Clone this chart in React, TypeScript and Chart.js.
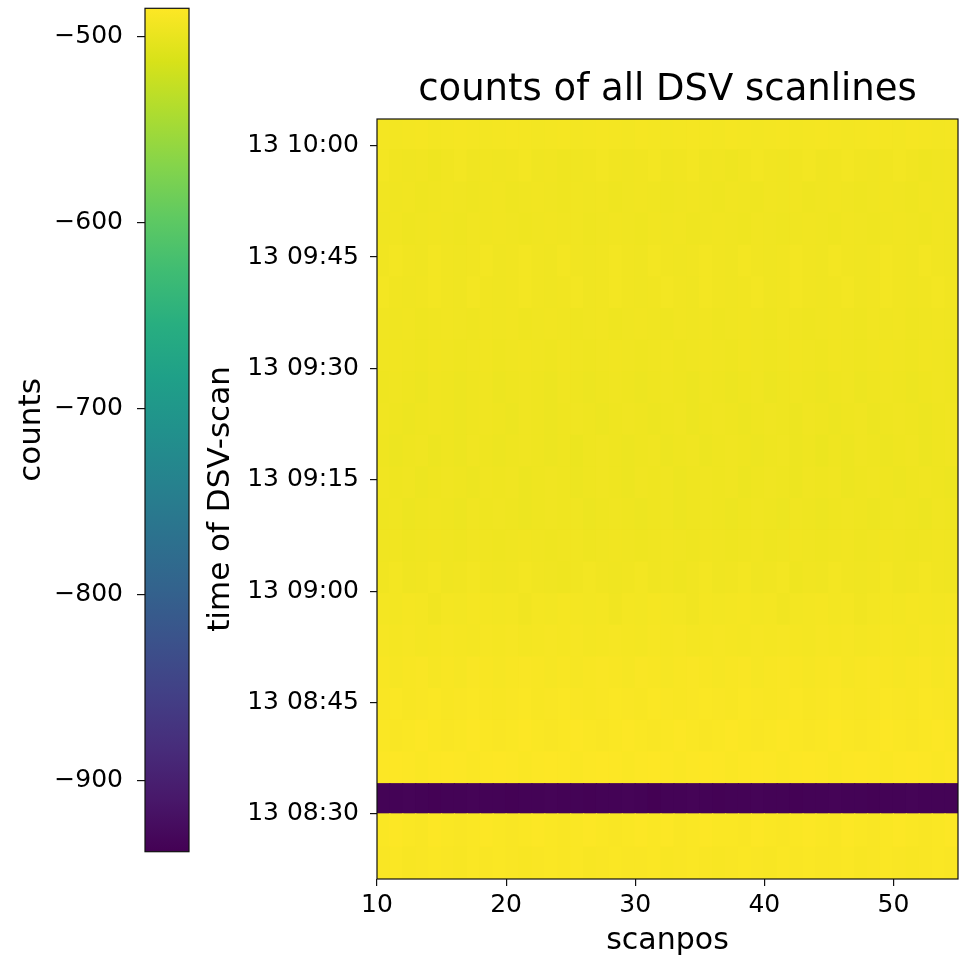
import React, { useEffect, useRef } from 'react';
import { Chart, registerables } from 'chart.js';

Chart.register(...registerables);

// ---------------- data ----------------
const SCANPOS = [10, 11, 12, 13, 14, 15, 16, 17, 18, 19, 20, 21, 22, 23, 24, 25, 26, 27, 28, 29, 30, 31, 32, 33, 34, 35, 36, 37, 38, 39, 40, 41, 42, 43, 44, 45, 46, 47, 48, 49, 50, 51, 52, 53, 54];
const SCAN_EDGE_END = 55;

// time edges of the DSV scanlines (day 13)
const ROW_EDGES = ['08:21:14', '08:25:30', '08:30:00', '08:34:04', '08:38:20', '08:42:36', '08:46:52', '08:51:08', '08:55:24', '08:59:40', '09:03:56', '09:08:12', '09:12:28', '09:16:44', '09:21:00', '09:25:16', '09:29:32', '09:33:48', '09:38:04', '09:42:20', '09:46:36', '09:50:52', '09:55:08', '09:59:24', '10:03:36'];

const X_TICKS = [10, 20, 30, 40, 50];
const Y_TICKS = ['08:30', '08:45', '09:00', '09:15', '09:30', '09:45', '10:00'];
const CBAR_TICKS = [-900, -800, -700, -600, -500];

const ROW_00 = [-488, -487, -489, -488, -487, -488, -489, -487, -488, -487, -488, -489, -488, -487, -488, -487, -489, -488, -487, -488, -488, -487, -489, -488, -487, -488, -489, -488, -487, -488, -489, -487, -488, -487, -488, -488, -487, -489, -488, -487, -488, -489, -488, -487, -488];
const ROW_01 = [-487, -486, -487, -488, -486, -487, -488, -487, -486, -487, -488, -487, -486, -487, -488, -487, -486, -487, -488, -487, -486, -487, -486, -488, -487, -486, -487, -487, -488, -486, -487, -488, -487, -486, -487, -488, -486, -487, -488, -487, -486, -487, -488, -487, -486];
const ROW_02 = [-935, -936, -934, -935, -937, -936, -935, -934, -936, -935, -937, -936, -935, -934, -936, -935, -937, -936, -935, -934, -936, -938, -935, -936, -934, -935, -937, -936, -935, -934, -936, -935, -937, -936, -935, -934, -936, -935, -937, -936, -935, -934, -936, -935, -936];
const ROW_03 = [-486, -485, -486, -487, -486, -485, -486, -487, -486, -485, -486, -487, -486, -485, -486, -487, -486, -485, -486, -487, -486, -485, -486, -487, -486, -485, -486, -487, -486, -485, -486, -487, -486, -485, -486, -487, -486, -485, -486, -487, -486, -485, -486, -487, -486];
const ROW_04 = [-487, -488, -487, -486, -487, -488, -487, -486, -487, -488, -487, -486, -487, -488, -487, -486, -487, -488, -487, -486, -487, -488, -487, -486, -487, -488, -487, -486, -487, -488, -487, -486, -487, -488, -487, -486, -487, -488, -487, -486, -487, -488, -487, -486, -487];
const ROW_05 = [-488, -487, -489, -488, -487, -489, -488, -487, -488, -489, -488, -487, -489, -488, -487, -488, -489, -488, -487, -488, -489, -487, -488, -489, -488, -487, -488, -489, -487, -488, -489, -488, -487, -489, -488, -487, -488, -489, -488, -487, -488, -489, -487, -488, -489];
const ROW_06 = [-489, -490, -489, -488, -490, -489, -490, -488, -489, -490, -489, -488, -489, -490, -489, -490, -489, -488, -489, -490, -488, -489, -490, -489, -488, -489, -490, -489, -488, -490, -489, -488, -489, -490, -489, -488, -490, -489, -488, -489, -490, -489, -488, -490, -489];
const ROW_07 = [-490, -491, -490, -492, -491, -490, -491, -492, -490, -491, -490, -492, -491, -490, -491, -490, -492, -491, -490, -491, -492, -490, -491, -490, -492, -491, -490, -491, -492, -490, -491, -490, -491, -492, -490, -491, -490, -492, -491, -490, -491, -492, -490, -491, -490];
const ROW_08 = [-492, -493, -491, -492, -494, -492, -493, -491, -492, -493, -492, -494, -492, -493, -491, -492, -493, -492, -494, -492, -493, -491, -492, -493, -494, -492, -493, -492, -491, -493, -492, -494, -493, -492, -491, -493, -492, -494, -493, -492, -493, -491, -492, -493, -492];
const ROW_09 = [-494, -493, -495, -494, -493, -495, -494, -493, -494, -495, -494, -493, -494, -495, -496, -494, -493, -494, -495, -494, -493, -495, -494, -496, -494, -493, -495, -494, -493, -495, -494, -493, -496, -494, -495, -493, -494, -495, -494, -493, -495, -494, -493, -494, -495];
const ROW_10 = [-495, -494, -496, -495, -494, -495, -496, -494, -495, -496, -495, -494, -495, -496, -495, -494, -496, -495, -494, -495, -496, -495, -494, -495, -496, -494, -495, -496, -495, -494, -496, -495, -494, -495, -496, -495, -494, -496, -495, -494, -495, -496, -495, -494, -495];
const ROW_11 = [-496, -495, -497, -496, -495, -496, -497, -495, -496, -495, -496, -497, -496, -495, -496, -495, -497, -496, -495, -496, -497, -496, -495, -497, -496, -495, -496, -497, -496, -495, -496, -497, -495, -496, -497, -496, -495, -496, -497, -496, -495, -496, -497, -495, -496];
const ROW_12 = [-495, -496, -495, -497, -496, -495, -496, -497, -495, -496, -495, -497, -496, -495, -496, -497, -496, -495, -496, -497, -495, -496, -495, -497, -496, -495, -496, -495, -497, -496, -495, -496, -497, -495, -496, -495, -497, -496, -495, -496, -497, -496, -495, -496, -497];
const ROW_13 = [-496, -497, -496, -495, -497, -496, -497, -495, -496, -497, -496, -495, -496, -497, -496, -498, -496, -495, -496, -497, -496, -495, -497, -496, -495, -497, -496, -495, -496, -497, -496, -495, -497, -496, -498, -496, -497, -495, -496, -497, -496, -495, -497, -496, -495];
const ROW_14 = [-495, -496, -497, -496, -495, -496, -497, -496, -495, -496, -497, -495, -496, -497, -496, -495, -496, -497, -496, -495, -496, -497, -496, -495, -497, -496, -495, -496, -497, -496, -495, -496, -497, -495, -496, -497, -496, -495, -497, -496, -495, -496, -497, -496, -495];
const ROW_15 = [-496, -495, -496, -497, -495, -496, -497, -496, -495, -497, -496, -495, -496, -497, -495, -496, -497, -496, -495, -496, -497, -496, -495, -496, -497, -495, -496, -497, -496, -495, -497, -496, -495, -496, -497, -496, -495, -497, -496, -495, -496, -497, -496, -495, -496];
const ROW_16 = [-495, -494, -495, -496, -494, -495, -496, -495, -494, -496, -495, -494, -495, -496, -494, -495, -496, -495, -494, -495, -496, -495, -494, -496, -495, -494, -495, -496, -494, -495, -496, -495, -494, -495, -496, -494, -495, -496, -495, -494, -495, -496, -494, -495, -496];
const ROW_17 = [-494, -495, -494, -496, -495, -494, -495, -496, -494, -495, -494, -496, -495, -494, -495, -496, -495, -494, -496, -495, -494, -495, -496, -494, -495, -494, -496, -495, -494, -495, -496, -494, -495, -496, -495, -494, -495, -496, -494, -495, -494, -496, -495, -494, -495];
const ROW_18 = [-493, -494, -495, -494, -493, -494, -495, -493, -494, -495, -494, -493, -494, -495, -494, -493, -495, -494, -493, -494, -495, -494, -493, -494, -495, -493, -494, -495, -494, -493, -495, -494, -493, -494, -495, -494, -493, -495, -494, -493, -494, -495, -494, -493, -494];
const ROW_19 = [-494, -493, -494, -495, -493, -494, -495, -494, -493, -495, -494, -493, -494, -495, -493, -494, -495, -494, -493, -494, -495, -493, -494, -495, -494, -493, -494, -495, -493, -494, -495, -494, -493, -494, -495, -493, -494, -495, -494, -493, -494, -495, -493, -494, -495];
const ROW_20 = [-495, -494, -496, -495, -494, -495, -496, -494, -495, -494, -495, -496, -495, -494, -495, -494, -496, -495, -494, -495, -496, -494, -495, -494, -496, -495, -494, -495, -496, -494, -495, -496, -495, -494, -495, -496, -494, -495, -496, -495, -494, -495, -496, -494, -495];
const ROW_21 = [-494, -495, -494, -496, -495, -494, -495, -496, -495, -494, -496, -495, -494, -495, -496, -494, -495, -494, -496, -495, -494, -495, -496, -495, -494, -495, -496, -494, -495, -496, -494, -495, -494, -496, -495, -494, -495, -496, -495, -494, -495, -496, -494, -495, -494];
const ROW_22 = [-493, -494, -495, -494, -496, -494, -493, -495, -494, -495, -494, -493, -495, -494, -496, -495, -494, -493, -494, -495, -494, -493, -495, -494, -493, -495, -494, -496, -494, -493, -494, -495, -494, -493, -495, -494, -493, -494, -495, -494, -493, -494, -496, -495, -494];
const ROW_23 = [-492, -493, -492, -491, -493, -492, -491, -492, -493, -492, -491, -492, -493, -492, -491, -493, -492, -491, -492, -493, -491, -492, -493, -492, -491, -492, -493, -491, -492, -493, -492, -491, -493, -492, -491, -492, -493, -492, -491, -492, -493, -491, -492, -493, -492];

const COUNTS = [ROW_00, ROW_01, ROW_02, ROW_03, ROW_04, ROW_05, ROW_06, ROW_07, ROW_08, ROW_09, ROW_10, ROW_11, ROW_12, ROW_13, ROW_14, ROW_15, ROW_16, ROW_17, ROW_18, ROW_19, ROW_20, ROW_21, ROW_22, ROW_23];

// ---------------- style ----------------
const VIRIDIS = ['#440154', '#48186a', '#472d7b', '#424086', '#3b528b', '#33638d', '#2c728e', '#26828e', '#21918c', '#1fa088', '#28ae80', '#3fbc73', '#5ec962', '#84d44b', '#addc30', '#d8e219', '#fde725'];
const FONT = 'DejaVu Sans';
const TEXT = '#000';
const LINE = '#111';

function hexToRgb(h: string) {
  return [parseInt(h.slice(1, 3), 16), parseInt(h.slice(3, 5), 16), parseInt(h.slice(5, 7), 16)];
}
function viridis(t: number) {
  const c = Math.max(0, Math.min(1, t)) * (VIRIDIS.length - 1);
  const i = Math.min(Math.floor(c), VIRIDIS.length - 2);
  const f = c - i;
  const a = hexToRgb(VIRIDIS[i]);
  const b = hexToRgb(VIRIDIS[i + 1]);
  const r = a.map((v, k) => Math.round(v + (b[k] - v) * f));
  return `rgb(${r[0]},${r[1]},${r[2]})`;
}
function toMin(s: string) {
  const p = s.split(':').map(Number);
  return p[0] * 60 + p[1] + (p[2] || 0) / 60;
}
function fmtTime(v: number) {
  const h = Math.floor(v / 60 + 1e-9);
  const m = Math.round(v - h * 60);
  return `13 ${String(h).padStart(2, '0')}:${String(m).padStart(2, '0')}`;
}

const ALL = COUNTS.flat();
const VMIN = Math.min(...ALL);
const VMAX = Math.max(...ALL);

const framePlugin = {
  id: 'frame',
  afterDraw(chart: any) {
    const { ctx, chartArea: a } = chart;
    ctx.save();
    ctx.strokeStyle = LINE;
    ctx.lineWidth = 1.2;
    ctx.strokeRect(a.left, a.top, a.right - a.left, a.bottom - a.top);
    ctx.restore();
  },
};

export default function App() {
  const cbarRef = useRef<HTMLCanvasElement>(null);
  const mainRef = useRef<HTMLCanvasElement>(null);

  useEffect(() => {
    Chart.defaults.font.family = FONT;
    const edges = ROW_EDGES.map(toMin);

    const datasets = COUNTS.map((row, i) => ({
      data: row.map((v, j) => ({ x: SCANPOS[j] + 0.5, y: [edges[i], edges[i + 1]] })),
      backgroundColor: row.map((v) => viridis((v - VMIN) / (VMAX - VMIN))),
      borderWidth: 0,
      barPercentage: 1,
      categoryPercentage: 1,
      grouped: false,
      inflateAmount: 0.6,
    }));

    const main = new Chart(mainRef.current!, {
      type: 'bar',
      data: { datasets: datasets as any },
      plugins: [framePlugin],
      options: {
        animation: false,
        responsive: false,
        events: [],
        layout: { padding: { left: 0, right: 3, top: 0, bottom: 0 } },
        plugins: {
          legend: { display: false },
          tooltip: { enabled: false },
          title: {
            display: true,
            text: 'counts of all DSV scanlines',
            fullSize: false,
            color: TEXT,
            font: { family: FONT, size: 37, weight: 'normal' },
            padding: { top: 68.4, bottom: 6.2 },
          },
        },
        scales: {
          x: {
            type: 'linear',
            min: SCANPOS[0],
            max: SCAN_EDGE_END,
            offset: false,
            grid: { offset: false, display: true, drawOnChartArea: false, drawTicks: true, tickLength: 7, color: LINE, lineWidth: 1.2 },
            border: { display: false },
            afterBuildTicks: (s: any) => { s.ticks = X_TICKS.map((v) => ({ value: v })); },
            afterFit: (s: any) => { s.height = 80; s.paddingLeft = 0; s.paddingRight = 0; },
            ticks: { color: TEXT, font: { family: FONT, size: 25 }, padding: 4.5, maxRotation: 0 },
            title: { display: true, text: 'scanpos', color: TEXT, font: { family: FONT, size: 30 }, padding: { top: 0, bottom: 0 } },
          },
          y: {
            type: 'linear',
            min: edges[0],
            max: edges[edges.length - 1],
            beginAtZero: false,
            grid: { display: true, drawOnChartArea: false, drawTicks: true, tickLength: 7, color: LINE, lineWidth: 1.2 },
            border: { display: false },
            afterBuildTicks: (s: any) => { s.ticks = Y_TICKS.map((t) => ({ value: toMin(t) })); },
            afterFit: (s: any) => { s.width = 182; s.paddingTop = 0; s.paddingBottom = 0; },
            ticks: { color: TEXT, font: { family: FONT, size: 25 }, padding: 11, callback: (v: any) => fmtTime(Number(v)) },
            title: { display: true, text: 'time of DSV-scan', color: TEXT, font: { family: FONT, size: 31 }, padding: { top: 7.5, bottom: 0 } },
          },
        },
      } as any,
    });

    const cbar = new Chart(cbarRef.current!, {
      type: 'bar',
      data: {
        labels: ['counts'],
        datasets: [
          {
            data: [[VMIN, VMAX]] as any,
            borderWidth: 0,
            barPercentage: 1,
            categoryPercentage: 1,
            backgroundColor: (c: any) => {
              const chart = c.chart;
              if (!chart.chartArea) return VIRIDIS[0];
              const y = chart.scales.y;
              const g = chart.ctx.createLinearGradient(0, y.getPixelForValue(VMIN), 0, y.getPixelForValue(VMAX));
              VIRIDIS.forEach((col, k) => g.addColorStop(k / (VIRIDIS.length - 1), col));
              return g;
            },
          },
        ],
      },
      plugins: [framePlugin],
      options: {
        animation: false,
        responsive: false,
        events: [],
        layout: { padding: { left: 0, right: 1, top: 8.3, bottom: 107.3 } },
        plugins: { legend: { display: false }, tooltip: { enabled: false }, title: { display: false } },
        scales: {
          x: { display: false },
          y: {
            type: 'linear',
            min: VMIN,
            max: VMAX,
            beginAtZero: false,
            grid: { display: true, drawOnChartArea: false, drawTicks: true, tickLength: 8, color: LINE, lineWidth: 1.2 },
            border: { display: false },
            afterBuildTicks: (s: any) => { s.ticks = CBAR_TICKS.map((v) => ({ value: v })); },
            afterFit: (s: any) => { s.width = 145; s.paddingTop = 0; s.paddingBottom = 0; },
            ticks: { color: TEXT, font: { family: FONT, size: 25 }, padding: 14, callback: (v: any) => String(v).replace('-', '\u2212') },
            title: { display: true, text: 'counts', color: TEXT, font: { family: FONT, size: 31 }, padding: { top: 13, bottom: 0 } },
          },
        },
      } as any,
    });

    return () => {
      main.destroy();
      cbar.destroy();
    };
  }, []);

  return (
    <div style={{ position: 'absolute', left: 0, top: 0, width: 961, height: 959, background: '#fff', overflow: 'hidden' }}>
      <canvas ref={cbarRef} width={190} height={959} style={{ position: 'absolute', left: 0, top: 0, width: 190, height: 959 }} />
      <canvas ref={mainRef} width={766} height={959} style={{ position: 'absolute', left: 195, top: 0, width: 766, height: 959 }} />
    </div>
  );
}
